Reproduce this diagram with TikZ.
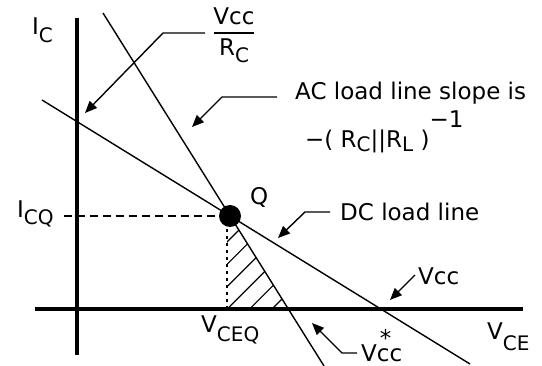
\documentclass[tikz,border=0pt]{standalone}
\usepackage{fontspec}
\setmainfont{DejaVu Sans}
\usetikzlibrary{arrows.meta}

% lowered subscript letters
\newcommand\lo[2][8pt]{\raisebox{-#1}{\fontsize{20}{20}\selectfont #2}}

\begin{document}
\begin{tikzpicture}[x=1pt,y=-1pt,
    axis/.style={line width=4pt},
    loadline/.style={line width=1.4pt},
    leader/.style={line width=1.4pt,-{Triangle[length=12pt,width=10pt]}},
    lbl/.style={inner sep=0pt,anchor=base west,font=\fontsize{23}{26}\selectfont}]

  % Frame
  \useasboundingbox (0,0) rectangle (542,366);

  % Axes
  \coordinate (ytop) at (77,18);
  \coordinate (ybot) at (77,355);
  \coordinate (xleft) at (35,309);
  \coordinate (xright) at (523,309);
  \draw[axis] (ytop) -- (ybot);
  \draw[axis] (xleft) -- (xright);

  % Load lines
  \coordinate (dc1) at (42,100);
  \coordinate (dc2) at (470,364);
  \coordinate (ac1) at (103,13);
  \coordinate (ac2) at (324,366);
  \draw[loadline] (dc1) -- (dc2);
  \draw[loadline] (ac1) -- (ac2);

  % Shaded triangle under Q
  \coordinate (hb) at (227,309);
  \begin{scope}
    \clip (227,211) -- (hb) -- (288,309) -- cycle;
    \foreach \c in {469,491.4,...,585} {
      \draw[line width=1.2pt] (\c-309,309) -- ++(120,-120);
    }
  \end{scope}

  % Operating point
  \node[circle,fill,inner sep=0pt,minimum size=22pt] (qpt) at (230,216) {};
  \draw[line width=1.2pt,dash pattern=on 3pt off 4pt] (hb) -- (hb |- qpt.south);

  % Labels
  \node[lbl] (ic) at (32,35) {I\lo{C}};
  \node[lbl] (icq) at (17,218) {I\lo[7pt]{CQ}};
  \node[lbl] (vceq) at (201,333) {V\lo[9pt]{CEQ}};
  \node[lbl] (vce) at (487,340) {V\lo[11pt]{CE}};
  \node[lbl] (qlab) at (250,205) {Q};
  \node[lbl,anchor=base] (vnum) at (234,25) {Vcc};
  \node[lbl,anchor=base] (rden) at (234,56) {R\lo[7pt]{C}};
  \draw[line width=1.5pt] (214,33) -- (254,33);
  \node[lbl] (acnote) at (295,100) {AC load line slope is};
  \node[lbl] (acslope) at (305,148) {−( R\lo[4pt]{C}||R\lo[4pt]{L} )\raisebox{20pt}{−1}};
  \node[lbl] (dcnote) at (340,221) {DC load line};
  \node[lbl] (vcc) at (418,285) {Vcc};
  \node[lbl] (vccs) at (361,362) {V\rlap{\hspace{3pt}\raisebox{15pt}{*}}cc};

  % Dashed level of I_CQ
  \draw[loadline,dash pattern=on 8pt off 5pt,shorten <=10pt] (icq.east |- qpt) -- (qpt);

  % Leaders
  \coordinate (sA) at (205,33);
  \coordinate (bA) at (163,33);
  \coordinate (tA) at (85,113);
  \draw[leader] (sA) -- (bA) -- (tA);

  \coordinate (sB) at (277,97);
  \coordinate (bB) at (222,97);
  \coordinate (tB) at (192,127);
  \draw[leader] (sB) -- (bB) -- (tB);

  \coordinate (sC) at (330,212);
  \coordinate (bC) at (305,212);
  \coordinate (tC) at (278,238);
  \draw[leader] (sC) -- (bC) -- (tC);

  \coordinate (sD) at (415,275);
  \coordinate (tD) at (390,300);
  \draw[leader] (sD) -- (tD);

  \coordinate (sE) at (357,353);
  \coordinate (bE) at (342,353);
  \coordinate (tE) at (312,323);
  \draw[leader] (sE) -- (bE) -- (tE);
\end{tikzpicture}
\end{document}
